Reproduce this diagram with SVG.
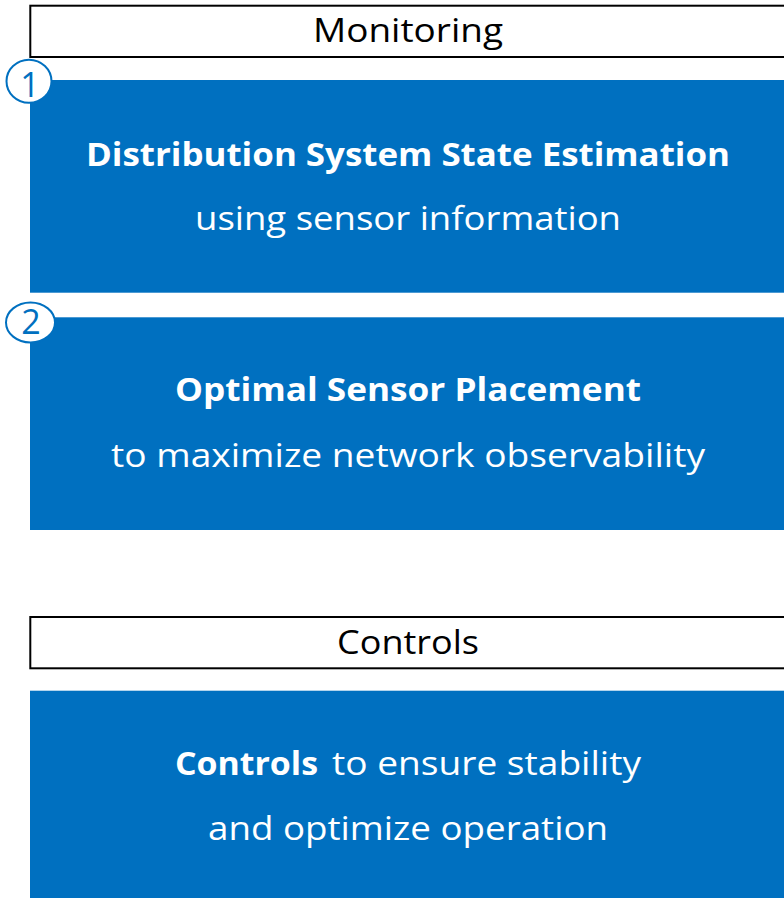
<svg xmlns="http://www.w3.org/2000/svg" width="784" height="898" viewBox="0 0 784 898">
<style>
.hdr{fill:#ffffff;stroke:#000000;stroke-width:2}
.blue{fill:#0070C0}
.t{font-family:"Open Sans","Liberation Sans",sans-serif;font-size:32px;fill:#ffffff}
.b{font-weight:bold}
.h{font-family:"Open Sans","Liberation Sans",sans-serif;font-size:32px;fill:#000000}
.num{fill:#ffffff;stroke:#0070C0;stroke-width:2}
.nt{font-family:"Open Sans","Liberation Sans",sans-serif;font-size:34px;fill:#0070C0;text-anchor:middle}
</style>
<rect width="784" height="898" fill="#ffffff"/>
<g id="monitoring-header">
<rect class="hdr" x="30.3" y="5.7" width="780" height="51.3"/>
<text class="h" x="313" y="42" textLength="190" lengthAdjust="spacingAndGlyphs">Monitoring</text>
</g>
<g id="dsse">
<rect class="blue" x="30" y="80" width="780" height="212.7"/>
<text class="t b" x="86" y="166" textLength="644" lengthAdjust="spacingAndGlyphs">Distribution System State Estimation</text>
<text class="t" x="195" y="229.5" textLength="426" lengthAdjust="spacingAndGlyphs">using sensor information</text>
</g>
<g id="badge-1">
<ellipse class="num" cx="29" cy="81.2" rx="22.5" ry="21.5"/>
<text class="nt" x="30" y="96.5">1</text>
</g>
<g id="osp">
<rect class="blue" x="30" y="317.3" width="780" height="212.7"/>
<text class="t b" x="175" y="401" textLength="466" lengthAdjust="spacingAndGlyphs">Optimal Sensor Placement</text>
<text class="t" x="111" y="466.5" textLength="594" lengthAdjust="spacingAndGlyphs">to maximize network observability</text>
</g>
<g id="badge-2">
<ellipse class="num" cx="30.5" cy="322.5" rx="24.5" ry="20"/>
<text class="nt" x="31" y="334">2</text>
</g>
<g id="controls-header">
<rect class="hdr" x="30.3" y="617" width="780" height="51.3"/>
<text class="h" x="337" y="653.5" textLength="142" lengthAdjust="spacingAndGlyphs">Controls</text>
</g>
<g id="controls">
<rect class="blue" x="30" y="690.7" width="780" height="210"/>
<text class="t b" x="175" y="775" textLength="143" lengthAdjust="spacingAndGlyphs">Controls</text>
<text class="t" x="332" y="775" textLength="309" lengthAdjust="spacingAndGlyphs">to ensure stability</text>
<text class="t" x="208" y="840" textLength="400" lengthAdjust="spacingAndGlyphs">and optimize operation</text>
</g>
<g id="connectors"/>
</svg>
